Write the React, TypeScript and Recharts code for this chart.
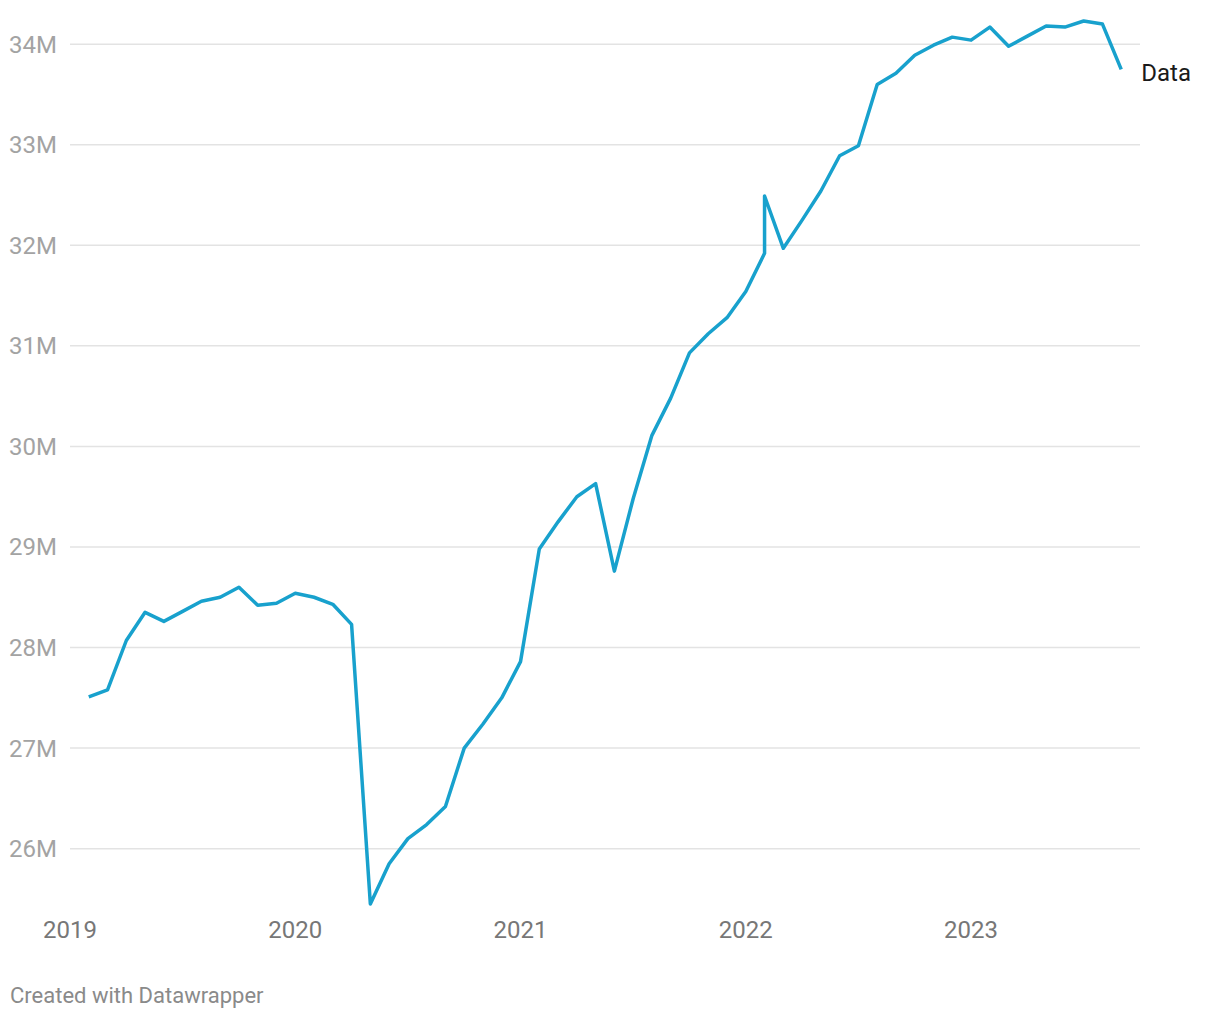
import React from "react";
import { LineChart, Line, XAxis, YAxis, ReferenceLine, LabelList } from "recharts";

// months since Jan 2019 (Feb 2022 appears twice in the source)
const months = [
  1, 2, 3, 4, 5, 6, 7, 8, 9, 10, 11, 12, 13, 14, 15, 16, 17, 18, 19, 20, 21, 22,
  23, 24, 25, 26, 27, 28, 29, 30, 31, 32, 33, 34, 35, 36, 37, 37, 38, 39, 40, 41,
  42, 43, 44, 45, 46, 47, 48, 49, 50, 51, 52, 53, 54, 55, 56,
];

// values in millions
const values = [
  27.51, 27.58, 28.07, 28.35, 28.26, 28.36, 28.46, 28.5, 28.6, 28.42, 28.44,
  28.54, 28.5, 28.43, 28.23, 25.45, 25.85, 26.1, 26.24, 26.42, 27.0, 27.24,
  27.5, 27.86, 28.98, 29.25, 29.5, 29.63, 28.76, 29.48, 30.11, 30.48, 30.93,
  31.12, 31.28, 31.54, 31.92, 32.49, 31.97, 32.25, 32.54, 32.89, 32.99, 33.6,
  33.71, 33.89, 33.99, 34.07, 34.04, 34.17, 33.98, 34.08, 34.18, 34.17, 34.23,
  34.2, 33.75,
];

const yTicks = [26, 27, 28, 29, 30, 31, 32, 33, 34];
const xTicks = [0, 12, 24, 36, 48];
const seriesName = "Data";

const data = months.map((m, i) => ({ m, v: values[i] }));

const EndLabel = (props: any) => {
  const { x, y, index } = props;
  if (index !== data.length - 1) return null;
  return (
    <text x={x + 20} y={y + 3} dy="0.355em" fill="#1a1a1a" fontSize={24}>
      {seriesName}
    </text>
  );
};

export default function App() {
  return (
    <div
      style={{
        position: "absolute",
        left: 0,
        top: 0,
        width: 1220,
        height: 1020,
        background: "#fff",
        fontFamily: "Roboto, sans-serif",
      }}
    >
      <LineChart
        width={1220}
        height={949}
        data={data}
        margin={{ top: 14, right: 80, left: 0, bottom: 0 }}
      >
        <XAxis
          dataKey="m"
          type="number"
          domain={[0, 57]}
          ticks={xTicks}
          tickFormatter={(v) => `${2019 + v / 12}`}
          axisLine={false}
          tickLine={false}
          tickSize={0}
          tickMargin={12}
          height={40}
          tick={{ fill: "#777777", fontSize: 24 }}
        />
        <YAxis
          type="number"
          domain={[25.4, 34.3]}
          ticks={yTicks}
          tickFormatter={(v) => `${v}M`}
          axisLine={false}
          tickLine={false}
          tickSize={0}
          tickMargin={13}
          width={70}
          tick={{ fill: "#a3a3a3", fontSize: 24 }}
        />
        {yTicks.map((t) => (
          <ReferenceLine key={t} y={t} stroke="#e3e3e3" strokeWidth={1.5} />
        ))}
        <Line
          type="linear"
          dataKey="v"
          stroke="#18a1cd"
          strokeWidth={3.5}
          strokeLinejoin="round"
          dot={false}
          isAnimationActive={false}
        >
          <LabelList dataKey="v" content={<EndLabel />} />
        </Line>
      </LineChart>
      <div
        style={{
          position: "absolute",
          left: 10,
          top: 983,
          fontSize: 22,
          color: "#8a8a8a",
        }}
      >
        Created with Datawrapper
      </div>
    </div>
  );
}
